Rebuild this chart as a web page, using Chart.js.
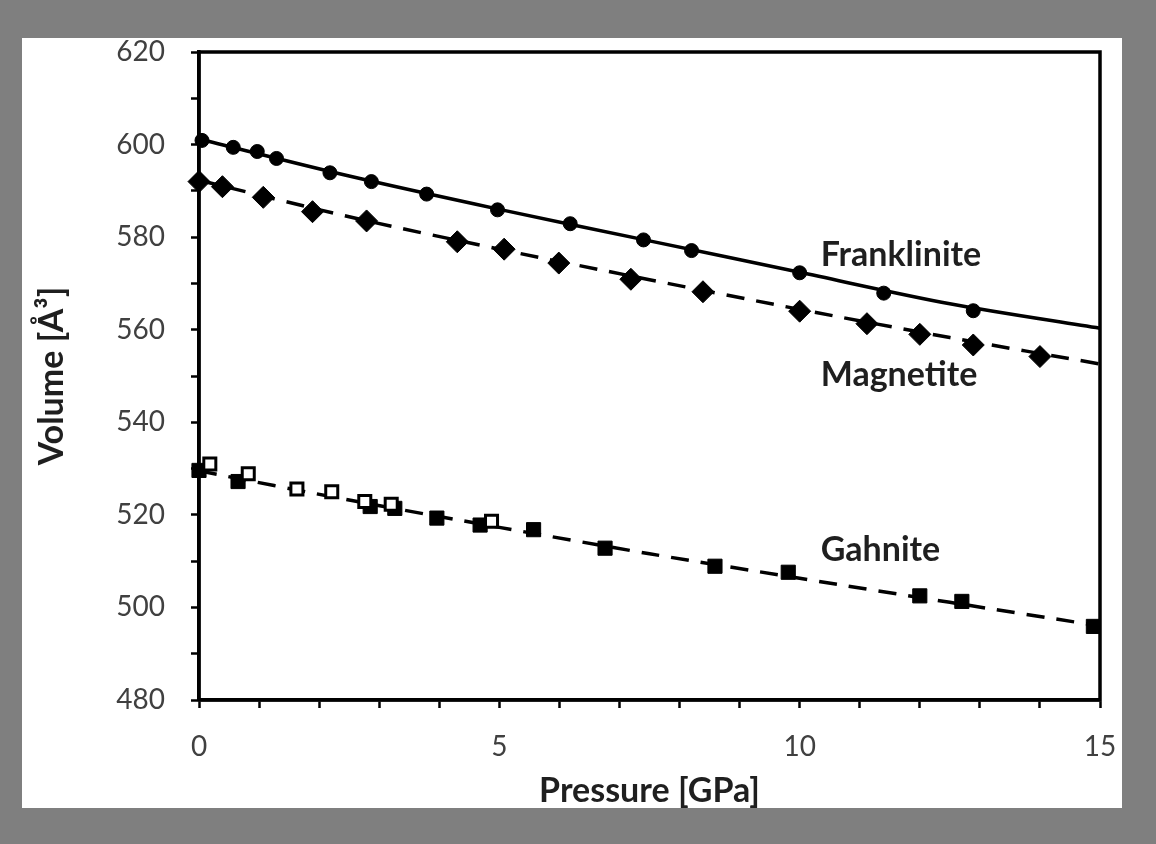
<!DOCTYPE html>
<html>
<head>
<meta charset="utf-8">
<script src="https://cdn.jsdelivr.net/npm/chart.js@4/dist/chart.umd.min.js"></script>
<style>
    body { margin: 0; background: #7f7f7f; }
    #wrap { width: 1156px; height: 844px; }
</style>
</head>
<body>
<div id="wrap"><canvas id="chart" width="1156" height="844"></canvas></div>
<script>
// pressure (GPa) / volume (A^3)
let pFrank = [0.05, 0.57, 0.97, 1.29, 2.18, 2.87, 3.79, 4.97, 6.18, 7.40, 8.20, 10.0, 11.40, 12.89];
let vFrank = [600.9, 599.4, 598.5, 597.0, 593.9, 592.0, 589.3, 585.9, 582.9, 579.4, 577.1, 572.3, 567.9, 564.1];

let pMag = [0, 0.39, 1.07, 1.89, 2.79, 4.30, 5.08, 5.99, 7.19, 8.39, 10.0, 11.12, 12.0, 12.89, 14.0];
let vMag = [592.0, 590.9, 588.6, 585.5, 583.5, 579.0, 577.4, 574.4, 570.9, 568.2, 564.0, 561.3, 559.0, 556.7, 554.2];

let pGahFilled = [0, 0.65, 2.85, 3.26, 3.96, 4.68, 5.57, 6.76, 8.59, 9.81, 12.0, 12.70, 14.89];
let vGahFilled = [529.6, 527.2, 521.8, 521.4, 519.3, 517.8, 516.8, 512.8, 508.9, 507.6, 502.5, 501.3, 495.9];

let pGahOpen = [0.18, 0.82, 1.63, 2.21, 2.76, 3.20, 4.87];
let vGahOpen = [531.0, 528.9, 525.6, 525.0, 522.9, 522.3, 518.6];

// EOS fit curves
let pFit = [0, 2.5, 5, 7.5, 10, 12.5, 15];
let vFrankFit = [601.2, 593.2, 586.0, 579.2, 572.4, 565.6, 560.3];
let vMagFit = [592.3, 584.4, 577.4, 570.8, 564.4, 558.3, 552.6];
let vGahFit = [529.5, 523.2, 517.3, 511.6, 506.3, 501.1, 496.0];

let labelNames = ['Franklinite', 'Magnetite', 'Gahnite'];
let labelP = [10.35, 10.35, 10.35];
let labelV = [576.2, 550.2, 512.4];

let xTicks = [0, 5, 10, 15];
let yTicks = [480, 500, 520, 540, 560, 580, 600, 620];

function pts(xs, ys) {
    let out = [];
    for (let i = 0; i < xs.length; i++) {
        out.push({ x: xs[i], y: ys[i] });
    }
    return out;
}

const bgPlugin = {
    id: 'panel_bg',
    beforeDraw: (chart) => {
        const ctx = chart.ctx;
        ctx.save();
        ctx.fillStyle = '#7f7f7f';
        ctx.fillRect(0, 0, chart.width, chart.height);
        ctx.fillStyle = '#ffffff';
        ctx.fillRect(22, 38, 1100, 770);
        ctx.restore();
    },
    beforeDatasetsDraw: (chart) => {
        const a = chart.chartArea;
        const ctx = chart.ctx;
        ctx.save();
        ctx.strokeStyle = '#000';
        ctx.lineWidth = 3.5;
        ctx.strokeRect(a.left, a.top, a.right - a.left, a.bottom - a.top);
        ctx.restore();
    },
    afterDatasetsDraw: (chart) => {
        const ctx = chart.ctx;
        ctx.save();
        ctx.fillStyle = '#1f1f1f';
        ctx.font = 'bold 34px Lato';
        ctx.textAlign = 'left';
        ctx.textBaseline = 'middle';
        for (let i = 0; i < labelNames.length; i++) {
            ctx.fillText(labelNames[i],
                chart.scales.x.getPixelForValue(labelP[i]),
                chart.scales.y.getPixelForValue(labelV[i]));
        }
        ctx.restore();
    }
};

const fitStyle = { type: 'line', pointRadius: 0, borderColor: '#000', borderWidth: 3.5, fill: false, tension: 0.3, order: 2, clip: false };
const markStyle = { type: 'scatter', borderColor: '#000', order: 1, clip: false };

const data = {
    datasets: [
        Object.assign({ label: 'Franklinite fit', data: pts(pFit, vFrankFit) }, fitStyle),
        Object.assign({ label: 'Magnetite fit', data: pts(pFit, vMagFit), borderDash: [18, 12] }, fitStyle),
        Object.assign({ label: 'Gahnite fit', data: pts(pFit, vGahFit), borderDash: [18, 12] }, fitStyle),
        Object.assign({ label: 'Franklinite', data: pts(pFrank, vFrank), pointStyle: 'circle', pointRadius: 7, backgroundColor: '#000' }, markStyle),
        Object.assign({ label: 'Magnetite', data: pts(pMag, vMag), pointStyle: 'rectRot', pointRadius: 11, backgroundColor: '#000' }, markStyle),
        Object.assign({ label: 'Gahnite (open)', data: pts(pGahOpen, vGahOpen), pointStyle: 'rect', pointRadius: 8.5, borderWidth: 3, backgroundColor: '#fff' }, markStyle),
        Object.assign({ label: 'Gahnite', data: pts(pGahFilled, vGahFilled), pointStyle: 'rect', pointRadius: 10, backgroundColor: '#000' }, markStyle)
    ]
};

const chart = new Chart(document.getElementById('chart'), {
    type: 'scatter',
    data: data,
    options: {
        responsive: false,
        animation: false,
        events: [],
        layout: { padding: { left: 22, top: 52, right: 56, bottom: 36 } },
        plugins: { legend: { display: false }, tooltip: { enabled: false } },
        scales: {
            x: {
                type: 'linear', min: 0, max: 15,
                afterFit: (scale) => { scale.height = 108; },
                ticks: {
                    stepSize: 1, autoSkip: false, maxRotation: 0, padding: 22,
                    color: '#404040', font: { family: 'Lato', size: 28 },
                    callback: (v) => xTicks.includes(v) ? String(v) : ''
                },
                grid: { drawOnChartArea: false, tickLength: 8, tickWidth: 2.5, tickColor: '#000' },
                border: { color: '#000', width: 3.5 },
                title: {
                    display: true, text: 'Pressure [GPa]', color: '#1f1f1f',
                    font: { family: 'Lato', size: 34, weight: 'bold', lineHeight: 1 },
                    padding: { top: 0, bottom: 0 }
                }
            },
            y: {
                type: 'linear', min: 480, max: 620,
                afterFit: (scale) => { scale.width = 177; },
                ticks: {
                    stepSize: 10, autoSkip: false, padding: 26,
                    color: '#404040', font: { family: 'Lato', size: 28 },
                    callback: (v) => yTicks.includes(v) ? String(v) : ''
                },
                grid: { drawOnChartArea: false, tickLength: 8, tickWidth: 2.5, tickColor: '#000' },
                border: { color: '#000', width: 3.5 },
                title: {
                    display: true, text: 'Volume [Å³]', color: '#1f1f1f',
                    font: { family: 'Lato', size: 34, weight: 'bold', lineHeight: 1 },
                    padding: { top: 13, bottom: 0 }
                }
            }
        }
    },
    plugins: [bgPlugin]
});
</script>
</body>
</html>
